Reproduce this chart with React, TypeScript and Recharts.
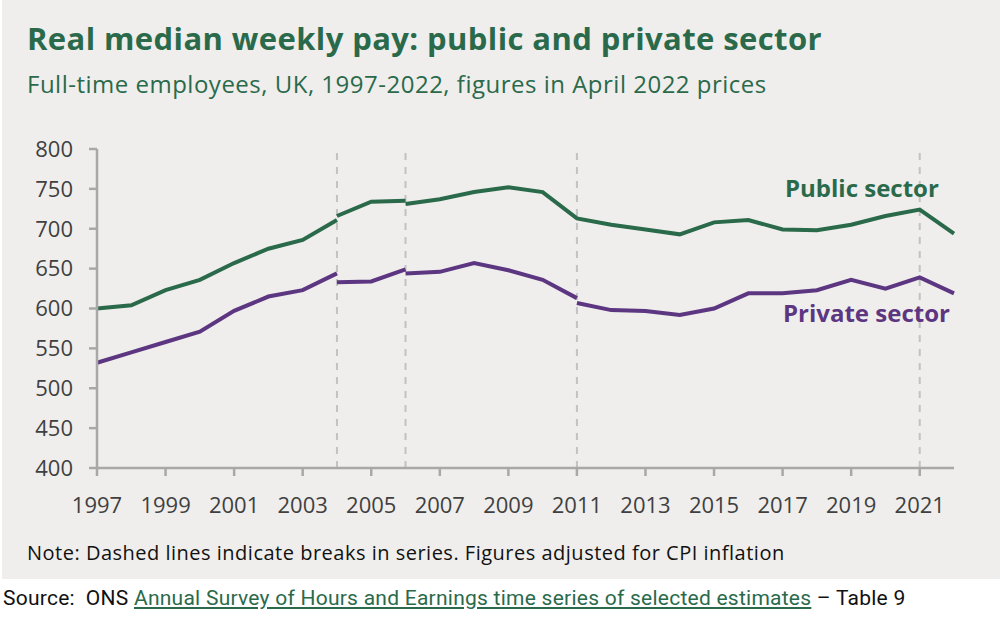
import React from "react";
import {
	LineChart,
	Line,
	XAxis,
	YAxis,
	ReferenceLine,
} from "recharts";

// years on the x axis
const years = [
	1997, 1998, 1999, 2000, 2001, 2002, 2003, 2004, 2005, 2006, 2007, 2008, 2009,
	2010, 2011, 2012, 2013, 2014, 2015, 2016, 2017, 2018, 2019, 2020, 2021, 2022,
];

// public sector, £ per week, split at the series breaks
const publicTo2004 = [600, 604, 623, 636, 657, 675, 686, 711]; // 1997-2004
const public2004to2006 = [716, 734, 735]; // 2004-2006
const publicFrom2006 = [
	731, 737, 746, 752, 746, 713, 705, 699, 693, 708, 711, 699, 698, 705, 716, 724,
	694,
]; // 2006-2022

// private sector
const privateTo2004 = [532, 545, 558, 571, 597, 615, 623, 644]; // 1997-2004
const private2004to2006 = [633, 634, 649]; // 2004-2006
const private2006to2011 = [644, 646, 657, 648, 636, 613]; // 2006-2011
const privateFrom2011 = [607, 598, 597, 592, 600, 619, 619, 623, 636, 625, 639, 619]; // 2011-2022

const breakYears = [2004, 2006, 2011, 2021];
const xTicks = [1997, 1999, 2001, 2003, 2005, 2007, 2009, 2011, 2013, 2015, 2017, 2019, 2021];
const yTicks = [400, 450, 500, 550, 600, 650, 700, 750, 800];

const pick = (arr: number[], start: number, year: number) => {
	const v = arr[year - start];
	return v === undefined ? null : v;
};

const data = years.map((year) => ({
	year,
	pubA: pick(publicTo2004, 1997, year),
	pubB: pick(public2004to2006, 2004, year),
	pubC: pick(publicFrom2006, 2006, year),
	privA: pick(privateTo2004, 1997, year),
	privB: pick(private2004to2006, 2004, year),
	privC: pick(private2006to2011, 2006, year),
	privD: pick(privateFrom2011, 2011, year),
}));

const GREEN = "#2a6a4b";
const PURPLE = "#5d3682";
const AXIS = "#a8a8a8";
const FONT = "'Open Sans', sans-serif";

export default function App() {
	const seg = (key: string, color: string) => (
		<Line
			key={key}
			type="linear"
			dataKey={key}
			stroke={color}
			strokeWidth={4}
			dot={false}
			activeDot={false}
			connectNulls={false}
			isAnimationActive={false}
		/>
	);

	return (
		<div
			style={{
				position: "absolute",
				left: 0,
				top: 0,
				width: 1000,
				height: 626,
				background: "#fff",
				fontFamily: FONT,
			}}
		>
			<div
				style={{
					position: "absolute",
					left: 2,
					top: 0,
					width: 998,
					height: 579,
					background: "#efeeec",
				}}
			/>
			<div
				style={{
					position: "absolute",
					left: 27,
					top: 17,
					fontSize: 31,
					letterSpacing: 0.4,
					fontWeight: 700,
					color: GREEN,
					whiteSpace: "nowrap",
				}}
			>
				Real median weekly pay: public and private sector
			</div>
			<div
				style={{
					position: "absolute",
					left: 27,
					top: 67,
					fontSize: 24,
					letterSpacing: 0.5,
					color: GREEN,
					whiteSpace: "nowrap",
				}}
			>
				Full-time employees, UK, 1997-2022, figures in April 2022 prices
			</div>

			<div style={{ position: "absolute", left: 0, top: 0 }}>
				<LineChart
					width={1000}
					height={520}
					data={data}
					margin={{ top: 149, right: 46, left: 37, bottom: 22 }}
				>
					{breakYears.map((y) => (
						<ReferenceLine
							key={y}
							x={y}
							stroke="#c2c2c2"
							strokeWidth={2}
							strokeDasharray="7 7"
						/>
					))}
					<XAxis
						dataKey="year"
						type="number"
						domain={[1997, 2022]}
						ticks={xTicks}
						interval={0}
						stroke={AXIS}
						strokeWidth={2.5}
						tickSize={8}
						tickMargin={21}
						height={30}
						tick={{ fontSize: 22, fill: "#404040", fontFamily: FONT }}
					/>
					<YAxis
						type="number"
						domain={[400, 800]}
						ticks={yTicks}
						interval={0}
						stroke={AXIS}
						strokeWidth={2.5}
						tickSize={8}
						tickMargin={16}
						width={60}
						tick={{ fontSize: 22, fill: "#404040", fontFamily: FONT }}
					/>
					{seg("pubA", GREEN)}
					{seg("pubB", GREEN)}
					{seg("pubC", GREEN)}
					{seg("privA", PURPLE)}
					{seg("privB", PURPLE)}
					{seg("privC", PURPLE)}
					{seg("privD", PURPLE)}
				</LineChart>
			</div>

			<div
				style={{
					position: "absolute",
					left: 785,
					top: 171,
					fontSize: 24,
					fontWeight: 700,
					color: GREEN,
					whiteSpace: "nowrap",
				}}
			>
				Public sector
			</div>
			<div
				style={{
					position: "absolute",
					left: 783,
					top: 296,
					fontSize: 24,
					fontWeight: 700,
					color: PURPLE,
					whiteSpace: "nowrap",
				}}
			>
				Private sector
			</div>

			<div
				style={{
					position: "absolute",
					left: 27,
					top: 539,
					fontSize: 20,
					letterSpacing: 0.5,
					color: "#111",
					whiteSpace: "nowrap",
				}}
			>
				Note: Dashed lines indicate breaks in series. Figures adjusted for CPI inflation
			</div>
			<div
				style={{
					position: "absolute",
					left: 3,
					top: 586,
					fontSize: 21,
					letterSpacing: 0.25,
					color: "#111",
					fontFamily: "Roboto, sans-serif",
					whiteSpace: "nowrap",
				}}
			>
				Source:&nbsp; ONS{" "}
				<span style={{ color: GREEN, textDecoration: "underline" }}>
					Annual Survey of Hours and Earnings time series of selected estimates
				</span>{" "}
				– Table 9
			</div>
		</div>
	);
}
